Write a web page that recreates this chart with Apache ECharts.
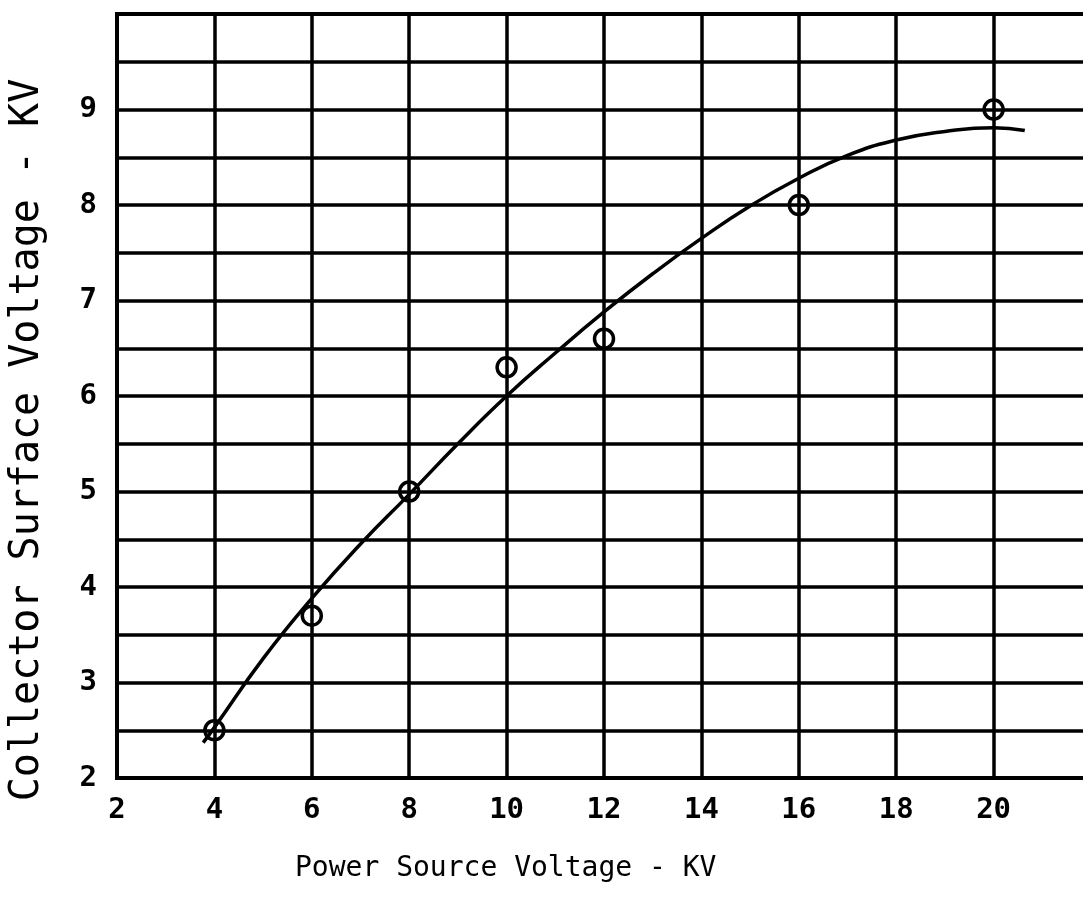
<!DOCTYPE html>
<html>
<head>
<meta charset="utf-8">
<script src="https://cdn.jsdelivr.net/npm/echarts@6/dist/echarts.min.js"></script>
<style>html,body{margin:0;padding:0;background:#fff}#c{width:1083px;height:905px}</style>
</head>
<body>
<div id="c"></div>
<script>
// Measured points (Power Source KV, Collector Surface KV)
var pointX = [4, 6, 8, 10, 12, 16, 20];
var pointY = [2.5, 3.7, 5.0, 6.3, 6.6, 8.0, 9.0];
// Fitted curve
var curveX = [3.77, 4, 5, 6, 7, 8, 9, 10, 11, 12, 13, 14, 15, 16, 17, 18, 19, 20, 20.64];
var curveY = [2.37, 2.53, 3.25, 3.88, 4.45, 4.97, 5.5, 6.0, 6.45, 6.88, 7.28, 7.65, 7.99, 8.28, 8.52, 8.68, 8.77, 8.81, 8.78];
var xTitle = 'Power Source Voltage - KV';
var yTitle = 'Collector Surface Voltage - KV';

var chart = echarts.init(document.getElementById('c'), null, {renderer: 'canvas'});
var mono = '"DejaVu Sans Mono", monospace';
chart.setOption({
  backgroundColor: '#fff',
  animation: false,
  grid: {left: 117, top: 14, width: 974, height: 764, outerBoundsMode: 'none', containLabel: false,
         show: true, borderColor: '#000', borderWidth: 4, backgroundColor: 'transparent'},
  xAxis: {
    type: 'value', min: 2, max: 22, interval: 2,
    axisLine: {show: false}, axisTick: {show: false},
    splitLine: {show: true, lineStyle: {color: '#000', width: 3.5}},
    axisLabel: {
      margin: 18, color: '#000', fontFamily: mono, fontWeight: 'bold', fontSize: 29,
      formatter: function (v) { return v >= 22 ? '' : String(v); }
    }
  },
  yAxis: {
    type: 'value', min: 2, max: 10, interval: 0.5,
    axisLine: {show: false}, axisTick: {show: false},
    splitLine: {show: true, lineStyle: {color: '#000', width: 3.5}},
    axisLabel: {
      margin: 20, color: '#000', fontFamily: mono, fontWeight: 'bold', fontSize: 29,
      formatter: function (v) { return (Math.abs(v - Math.round(v)) < 1e-6 && v < 10) ? String(Math.round(v)) : ''; }
    }
  },
  graphic: [
    {type: 'text', left: 508 - 213, top: 855, style: {text: xTitle, fill: '#000', font: 'normal 28px ' + mono}},
    {type: 'text', x: 28, y: 440, rotation: Math.PI / 2, style: {text: yTitle, fill: '#000', font: 'normal 40px ' + mono, textAlign: 'center', textVerticalAlign: 'middle'}}
  ],
  series: [
    {
      type: 'line', data: curveX.map(function (x, i) { return [x, curveY[i]]; }),
      smooth: 0.5, showSymbol: false, symbol: 'none',
      lineStyle: {color: '#000', width: 3.5}, z: 3
    },
    {
      type: 'scatter', data: pointX.map(function (x, i) { return [x, pointY[i]]; }),
      symbol: 'circle', symbolSize: 19,
      itemStyle: {color: 'rgba(0,0,0,0)', borderColor: '#000', borderWidth: 3.5, opacity: 1}, z: 4
    }
  ]
});
</script>
</body>
</html>
